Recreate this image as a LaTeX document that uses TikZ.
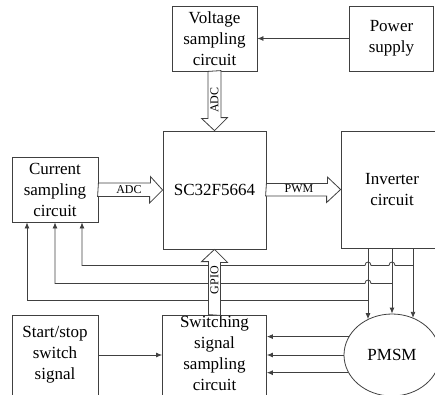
\documentclass[tikz,border=0pt]{standalone}
\usepackage{fontspec}
\setmainfont{Liberation Serif}
\usetikzlibrary{arrows.meta,shapes.geometric,calc}
\definecolor{lc}{HTML}{404040}
\begin{document}
\begin{tikzpicture}[x=1pt,y=-1pt,
  blk/.style={draw=lc, line width=0.8pt, align=center, inner sep=0pt,
    font=\fontsize{17}{21}\selectfont},
  arr/.style={draw=lc, line width=0.8pt, -{Latex[length=6pt,width=5pt]}},
  hollow/.style={draw=lc, line width=0.8pt, fill=white, line join=miter},
  lbl/.style={font=\fontsize{12}{14}\selectfont, inner sep=0pt}]
\useasboundingbox (0,0) rectangle (435,394);
\clip (0,0) rectangle (435,394);
% blocks
\node[blk, minimum width=85pt, minimum height=65pt] (volt) at (214.5,38.5) {Voltage\\sampling\\circuit};
\node[blk, minimum width=84pt, minimum height=65pt] (power) at (391.5,38.5) {Power\\supply};
\node[blk, minimum width=103pt, minimum height=118pt] (sc) at (214.5,190) {SC32F5664};
\node[blk, minimum width=86pt, minimum height=65pt] (cur) at (55,189.5) {Current\\sampling\\circuit};
\node[blk, minimum width=102pt, minimum height=117pt] (inv) at (392,189.5) {Inverter\\circuit};
\node[blk, minimum width=86pt, minimum height=80pt] (start) at (55,355) {Start/stop\\switch\\signal};
\node[blk, minimum width=104pt, minimum height=80pt] (sw) at (214.5,355) {};
\node[blk, draw=none] (swtext) at (214.5,353) {Switching\\signal\\sampling\\circuit};
\node[blk, ellipse, minimum width=96pt, minimum height=82pt] (pmsm) at (392,355) {PMSM};
% simple arrows
\draw[arr] (power.west) -- (volt.east);
\draw[arr] (start.east) -- (sw.west);
\draw[arr] (pmsm.157.3) -- (pmsm.157.3 -| sw.east);
\draw[arr] (pmsm.west) -- (sw.east);
\draw[arr] (pmsm.202.7) -- (pmsm.202.7 -| sw.east);
% inverter to PMSM
\coordinate (v1) at ($(inv.south)+(-24,0)$);
\coordinate (v2) at (inv.south);
\coordinate (v3) at ($(inv.south)+(21,0)$);
\draw[arr] (v1) -- (v1 |- pmsm.124.1);
\draw[arr] (v2) -- (pmsm.north);
\draw[arr] (v3) -- (v3 |- pmsm.60.4);
% feedback lines to current sampling
\coordinate (c1) at ($(cur.south)+(-28,0)$);
\coordinate (c2) at (cur.south);
\coordinate (c3) at ($(cur.south)+(27,0)$);
\draw[arr] ($(v3)+(0,17)$) -- ++(-18,0) .. controls ++(0,-4.5) and ++(0,-4.5) .. ++(-6,0)
  -- ++(-18,0) .. controls ++(0,-4.5) and ++(0,-4.5) .. ++(-6,0) -- ($(c3)+(0,43)$) -- (c3);
\draw[arr] ($(v2)+(0,35)$) -- ++(-21,0) .. controls ++(0,-4.5) and ++(0,-4.5) .. ++(-6,0)
  -- ($(c2)+(0,61)$) -- (c2);
\draw[arr] ($(v1)+(0,52)$) -- ($(c1)+(0,78)$) -- (c1);
% hollow bus arrows
\draw[hollow] (volt.south) ++(-6.5,0) -- ++(0,47) -- ++(-6.5,0) -- (sc.north) -- ++(13,-13) -- ++(-6.5,0) -- ++(0,-47) -- cycle;
\node[lbl, rotate=90] (adcv) at (214.5,100) {ADC};
\draw[hollow] (cur.east) ++(0,-6.5) -- ++(52,0) -- ++(0,-6.5) -- (sc.west) -- ++(-13,13) -- ++(0,-6.5) -- ++(-52,0) -- cycle;
\node[lbl] (adch) at (129,189.5) {ADC};
\draw[hollow] (sc.east) ++(0,-6.5) -- ++(61,0) -- ++(0,-6.5) -- (inv.west) -- ++(-14,13) -- ++(0,-6.5) -- ++(-61,0) -- cycle;
\node[lbl] (pwm) at (299,189) {PWM};
\draw[hollow] (sw.north) ++(-6,0) -- ++(0,-53) -- ++(-7,0) -- (sc.south) -- ++(13,13) -- ++(-7,0) -- ++(0,53) -- cycle;
\node[lbl, rotate=90] (gpio) at (214.5,280) {GPIO};
\end{tikzpicture}
\end{document}
